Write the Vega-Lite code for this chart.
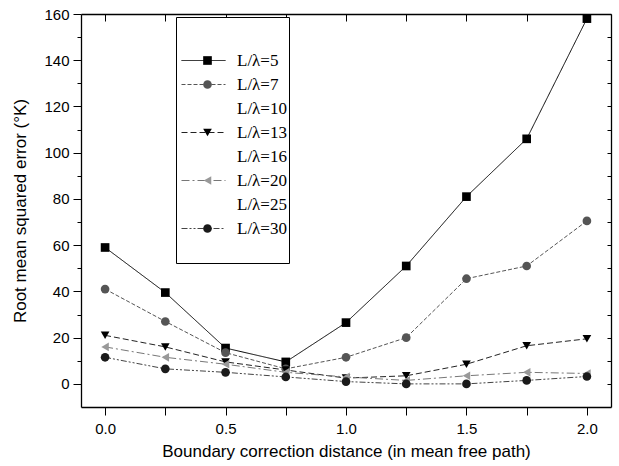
{
  "$schema": "https://vega.github.io/schema/vega-lite/v6.json",
  "width": 530,
  "height": 393,
  "autosize": "none",
  "padding": {"left": 81, "top": 14, "right": 8, "bottom": 59},
  "background": "white",
  "config": {
    "view": {"stroke": null},
    "axis": {"domainColor": "black", "domainWidth": 1.3, "tickColor": "black", "tickWidth": 1, "grid": false, "labelColor": "black", "titleColor": "black", "labelFont": "Liberation Sans", "titleFont": "Liberation Sans", "titleFontWeight": "normal"}
  },
  "data": {
    "values": [
      {"x": 0.0, "y": 59, "s": "L/λ=5"},
      {"x": 0.25, "y": 39.5, "s": "L/λ=5"},
      {"x": 0.5, "y": 15.5, "s": "L/λ=5"},
      {"x": 0.75, "y": 9.5, "s": "L/λ=5"},
      {"x": 1.0, "y": 26.5, "s": "L/λ=5"},
      {"x": 1.25, "y": 51, "s": "L/λ=5"},
      {"x": 1.5, "y": 81, "s": "L/λ=5"},
      {"x": 1.75, "y": 106, "s": "L/λ=5"},
      {"x": 2.0, "y": 158, "s": "L/λ=5"},
      {"x": 0.0, "y": 41, "s": "L/λ=7"},
      {"x": 0.25, "y": 27, "s": "L/λ=7"},
      {"x": 0.5, "y": 13.5, "s": "L/λ=7"},
      {"x": 0.75, "y": 6.5, "s": "L/λ=7"},
      {"x": 1.0, "y": 11.5, "s": "L/λ=7"},
      {"x": 1.25, "y": 20, "s": "L/λ=7"},
      {"x": 1.5, "y": 45.5, "s": "L/λ=7"},
      {"x": 1.75, "y": 51, "s": "L/λ=7"},
      {"x": 2.0, "y": 70.5, "s": "L/λ=7"},
      {"x": 0.0, "y": 21, "s": "L/λ=13"},
      {"x": 0.25, "y": 16, "s": "L/λ=13"},
      {"x": 0.5, "y": 9.5, "s": "L/λ=13"},
      {"x": 0.75, "y": 6, "s": "L/λ=13"},
      {"x": 1.0, "y": 2.5, "s": "L/λ=13"},
      {"x": 1.25, "y": 3.5, "s": "L/λ=13"},
      {"x": 1.5, "y": 8.5, "s": "L/λ=13"},
      {"x": 1.75, "y": 16.5, "s": "L/λ=13"},
      {"x": 2.0, "y": 19.5, "s": "L/λ=13"},
      {"x": 0.0, "y": 16, "s": "L/λ=20"},
      {"x": 0.25, "y": 11.5, "s": "L/λ=20"},
      {"x": 0.5, "y": 8.5, "s": "L/λ=20"},
      {"x": 0.75, "y": 5, "s": "L/λ=20"},
      {"x": 1.0, "y": 3, "s": "L/λ=20"},
      {"x": 1.25, "y": 1.5, "s": "L/λ=20"},
      {"x": 1.5, "y": 3.5, "s": "L/λ=20"},
      {"x": 1.75, "y": 5, "s": "L/λ=20"},
      {"x": 2.0, "y": 4.5, "s": "L/λ=20"},
      {"x": 0.0, "y": 11.5, "s": "L/λ=30"},
      {"x": 0.25, "y": 6.5, "s": "L/λ=30"},
      {"x": 0.5, "y": 5, "s": "L/λ=30"},
      {"x": 0.75, "y": 3, "s": "L/λ=30"},
      {"x": 1.0, "y": 1, "s": "L/λ=30"},
      {"x": 1.25, "y": 0, "s": "L/λ=30"},
      {"x": 1.5, "y": 0, "s": "L/λ=30"},
      {"x": 1.75, "y": 1.5, "s": "L/λ=30"},
      {"x": 2.0, "y": 3.2, "s": "L/λ=30"}
    ]
  },
  "layer": [
    {
      "mark": {"type": "line", "strokeWidth": 1},
      "encoding": {
        "x": {"field": "x", "type": "quantitative", "scale": {"domain": [-0.1, 2.1], "nice": false, "zero": false},
          "axis": {"orient": "bottom", "title": "Boundary correction distance (in mean free path)", "values": [0, 0.25, 0.5, 0.75, 1, 1.25, 1.5, 1.75, 2], "labelExpr": "datum.value % 0.5 == 0 ? format(datum.value, '.1f') : ''", "tickSize": 8, "labelFontSize": 15, "labelPadding": 6, "titleFontSize": 17, "titlePadding": 7, "labelFlush": false}},
        "y": {"field": "y", "type": "quantitative", "scale": {"domain": [-10, 160], "nice": false, "zero": false},
          "axis": {"orient": "left", "title": "Root mean squared error (°K)", "values": [0, 10, 20, 30, 40, 50, 60, 70, 80, 90, 100, 110, 120, 130, 140, 150, 160], "labelExpr": "datum.value % 20 == 0 ? datum.value : ''", "tickSize": {"condition": {"test": "datum.value % 20 == 0", "value": 8}, "value": 4}, "labelFontSize": 15, "labelPadding": 4, "titleFontSize": 17, "titlePadding": 14, "labelFlush": false}},
        "color": {"field": "s", "type": "nominal",
          "scale": {"domain": ["L/λ=5", "L/λ=7", "L/λ=10", "L/λ=13", "L/λ=16", "L/λ=20", "L/λ=25", "L/λ=30", " "],
            "range": ["black", "#555555", "transparent", "#222222", "transparent", "#777777", "transparent", "#444444", "transparent"]},
          "legend": {"orient": "none", "legendX": 95, "legendY": 3, "title": " ", "titleFontSize": 16, "titlePadding": 17, "symbolType": "M-1,0H7.8", "symbolSize": 100, "symbolStrokeWidth": 1, "labelFont": "Liberation Serif", "labelFontSize": 17, "labelColor": "black", "labelOffset": 42, "rowPadding": 6, "padding": 2, "strokeColor": "black", "fillColor": "white", "zindex": 0}},
        "strokeDash": {"field": "s", "type": "nominal",
          "scale": {"domain": ["L/λ=5", "L/λ=7", "L/λ=10", "L/λ=13", "L/λ=16", "L/λ=20", "L/λ=25", "L/λ=30", " "],
            "range": [[1, 0], [4, 2], [1, 0], [6, 3], [1, 0], [8, 3, 2, 3], [1, 0], [6, 2, 2, 2, 2, 2], [1, 0]]},
          "legend": {"orient": "none", "legendX": 95, "legendY": 3, "title": " ", "titleFontSize": 16, "titlePadding": 17, "symbolType": "M-1,0H7.8", "symbolSize": 100, "labelFont": "Liberation Serif", "labelFontSize": 17, "labelOffset": 42, "rowPadding": 6, "padding": 2}}
      }
    },
    {
      "mark": {"type": "point", "filled": true, "size": 75, "opacity": 1},
      "encoding": {
        "x": {"field": "x", "type": "quantitative",
          "axis": {"orient": "top", "title": null, "labels": false, "values": [0, 0.25, 0.5, 0.75, 1, 1.25, 1.5, 1.75, 2], "tickSize": -7}},
        "y": {"field": "y", "type": "quantitative",
          "axis": {"orient": "right", "title": null, "labels": false, "values": [0, 10, 20, 30, 40, 50, 60, 70, 80, 90, 100, 110, 120, 130, 140, 150, 160], "tickSize": -4}},
        "shape": {"field": "s", "type": "nominal",
          "scale": {"domain": ["L/λ=5", "L/λ=7", "L/λ=10", "L/λ=13", "L/λ=16", "L/λ=20", "L/λ=25", "L/λ=30", "  "],
            "range": ["square", "circle", "circle", "triangle-down", "circle", "triangle-left", "circle", "circle", "circle"]},
          "legend": {"orient": "none", "legendX": 116, "legendY": 3, "title": " ", "titleFontSize": 16, "titlePadding": 17, "symbolSize": 75, "symbolStrokeWidth": 0, "labelExpr": "''", "labelFont": "Liberation Serif", "labelFontSize": 17, "labelOffset": 8, "rowPadding": 6, "padding": 2, "zindex": 1}},
        "fill": {"field": "s", "type": "nominal",
          "scale": {"domain": ["L/λ=5", "L/λ=7", "L/λ=10", "L/λ=13", "L/λ=16", "L/λ=20", "L/λ=25", "L/λ=30", "  "],
            "range": ["black", "#555555", "transparent", "black", "transparent", "#999999", "transparent", "#1a1a1a", "transparent"]},
          "legend": {"orient": "none", "legendX": 116, "legendY": 3, "title": " ", "titleFontSize": 16, "titlePadding": 17, "symbolSize": 75, "symbolStrokeWidth": 0, "labelExpr": "''", "labelFont": "Liberation Serif", "labelFontSize": 17, "labelOffset": 8, "rowPadding": 6, "padding": 2, "zindex": 1}}
      }
    }
  ],
  "resolve": {"axis": {"x": "independent", "y": "independent"}}
}
